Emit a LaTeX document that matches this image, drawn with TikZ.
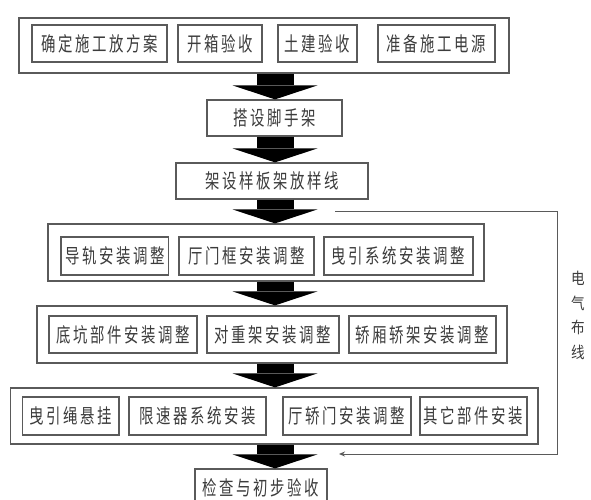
\documentclass[tikz,border=0pt]{standalone}
\usepackage{fontspec}
\newfontfamily\cjk[FakeStretch=0.72,LetterSpace=13]{Noto Sans CJK SC}
\newfontfamily\cjkplain[FakeStretch=0.85]{Noto Sans CJK SC}
\usetikzlibrary{arrows.meta}
\definecolor{rahmen}{HTML}{5A5A5A}
\definecolor{schrift}{HTML}{3C3C3C}
\tikzset{
  kasten/.style={draw=rahmen, line width=1.2pt, minimum height=37pt, inner sep=0pt,
    text=schrift, font=\cjk\fontsize{20}{20}\selectfont},
  rahmenbox/.style={draw=rahmen, line width=1.2pt, inner sep=0pt},
  pfeil/.style={black, line width=37pt, -{Triangle[length=14pt,width=85pt,line width=0pt]}},
  leitung/.style={rahmen, line width=1pt, -{Stealth[length=6pt,width=5pt]}}
}
\begin{document}
\begin{tikzpicture}[x=1pt,y=-1pt]

\fill[white] (0,0) rectangle (591,500);
\useasboundingbox (0,0) rectangle (591,500);

\coordinate (ax) at (275,0);

% Vorbereitung
\node[rahmenbox, minimum width=490pt, minimum height=55pt] (r1) at (264,45.5) {};
\node[kasten, minimum width=135pt] (a1) at (99.5,43.5) {确定施工放方案};
\node[kasten, minimum width=84pt] (a2) at (220,43.5) {开箱验收};
\node[kasten, minimum width=79pt] (a3) at (317.5,43.5) {土建验收};
\node[kasten, minimum width=117pt] (a4) at (436.5,43.5) {准备施工电源};

\node[kasten, minimum width=135pt, minimum height=36pt] (b) at (274.5,118) {搭设脚手架};
\node[kasten, minimum width=192pt, minimum height=36pt] (c) at (272,181) {架设样板架放样线};

% Montage
\node[rahmenbox, minimum width=436pt, minimum height=57pt] (r2) at (266,252.5) {};
\node[kasten, minimum width=107.5pt, minimum height=38pt] (d1) at (114.75,256) {导轨安装调整};
\node[kasten, minimum width=135pt, minimum height=38pt] (d2) at (246.5,256) {厅门框安装调整};
\node[kasten, minimum width=149pt, minimum height=38pt] (d3) at (398.5,256) {曳引系统安装调整};

\node[rahmenbox, minimum width=470pt, minimum height=57pt] (r3) at (272,334.5) {};
\node[kasten, minimum width=148pt] (e1) at (123,334.5) {底坑部件安装调整};
\node[kasten, minimum width=132pt] (e2) at (273,334.5) {对重架安装调整};
\node[kasten, minimum width=147pt] (e3) at (422.5,334.5) {轿厢轿架安装调整};

\node[rahmenbox, minimum width=527.5pt, minimum height=56pt] (r4) at (274.25,416) {};
\node[kasten, minimum width=96.4pt, minimum height=38pt] (f1) at (70.8,416) {曳引绳悬挂};
\node[kasten, minimum width=137pt, minimum height=38pt] (f2) at (197.5,416) {限速器系统安装};
\node[kasten, minimum width=128pt, minimum height=38pt] (f3) at (347,416) {厅轿门安装调整};
\node[kasten, minimum width=107pt, minimum height=38pt] (f4) at (473.5,416) {其它部件安装};

\node[kasten, minimum width=132pt] (g) at (261,487.5) {检查与初步验收};

% Pfeile
\draw[pfeil] (r1.south -| ax) -- (b.north -| ax);
\draw[pfeil] (b.south -| ax) -- (c.north -| ax);
\draw[pfeil] (c.south -| ax) -- (r2.north -| ax);
\draw[pfeil] (r2.south -| ax) -- (r3.north -| ax);
\draw[pfeil] (r3.south -| ax) -- (r4.north -| ax);
\draw[pfeil] (r4.south -| ax) -- (g.north -| ax);

% Elektrik
\coordinate (ls) at (335,211);
\coordinate (lr) at (557,211);
\coordinate (le) at (339,454);
\draw[leitung] (ls) -- (lr) |- (le);
\node[text=schrift, align=center, font=\cjkplain\fontsize{16}{24.5}\selectfont] (lab) at (578,315.5) {电\\气\\布\\线};

\end{tikzpicture}
\end{document}
